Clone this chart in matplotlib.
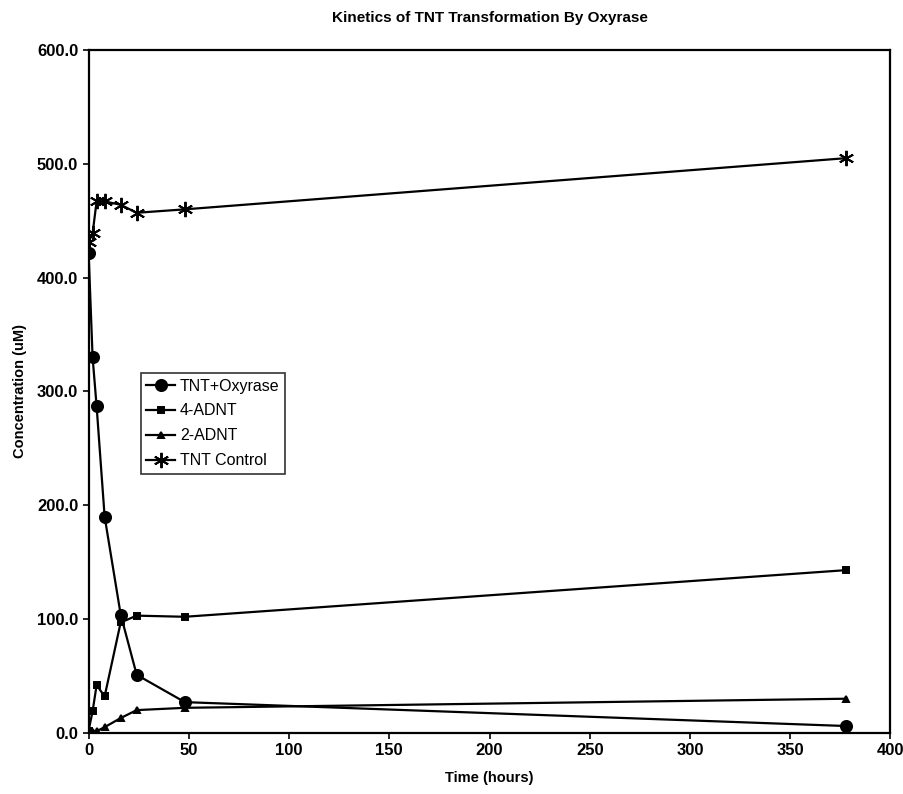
import matplotlib
matplotlib.use("Agg")
import matplotlib.pyplot as plt
from matplotlib.ticker import FormatStrFormatter, MultipleLocator

plt.rcParams["font.family"] = ["Liberation Sans", "DejaVu Sans"]

# --------------------------
# Données
# --------------------------
temps = [0, 2, 4, 8, 16, 24, 48, 378]

tnt_oxyrase = [422, 330, 287, 190, 104, 51, 27, 6]
adnt_4 = [2, 19, 42, 32, 97, 103, 102, 143]
adnt_2 = [2, 1, 1.5, 5, 13, 20, 22, 30]
tnt_control = [431, 439, 467, 467, 464, 457, 460, 505]

noms = ["TNT+Oxyrase", "4-ADNT", "2-ADNT", "TNT Control"]
series = [tnt_oxyrase, adnt_4, adnt_2, tnt_control]
marqueurs = ["o", "s", "^", (6, 2, 0)]
tailles = [8, 5, 5, 11]

# --------------------------
# Figure
# --------------------------
fig = plt.figure(figsize=(9.04, 7.94), dpi=100)
ax = fig.add_axes([0.098, 0.077, 0.887, 0.860])

for nom, valeurs, m, s in zip(noms, series, marqueurs, tailles):
    ax.plot(temps, valeurs, color="black", lw=1.6, marker=m, ms=s,
            mfc="black", mec="black", mew=1.4, label=nom)

ax.set_xlim(0, 400)
ax.set_ylim(0, 600)
ax.xaxis.set_major_locator(MultipleLocator(50))
ax.yaxis.set_major_locator(MultipleLocator(100))
ax.yaxis.set_major_formatter(FormatStrFormatter("%.1f"))

for sp in ax.spines.values():
    sp.set_linewidth(1.6)
ax.tick_params(direction="out", length=4, width=1.2, labelsize=12)
for lab in ax.get_xticklabels() + ax.get_yticklabels():
    lab.set_fontweight("bold")

ax.set_title("Kinetics of TNT Transformation By Oxyrase",
             fontsize=11, fontweight="bold", pad=20)
ax.set_xlabel("Time (hours)", fontsize=10.5, fontweight="bold", labelpad=9)
ax.set_ylabel("Concentration (uM)", fontsize=10.5, fontweight="bold", labelpad=7)

leg = ax.legend(loc="upper left", bbox_to_anchor=(0.065, 0.527),
                fontsize=11.5, frameon=True, fancybox=False, edgecolor="black",
                handlelength=1.8, handletextpad=0.3, labelspacing=0.62,
                borderpad=0.35, borderaxespad=0)
leg.get_frame().set_linewidth(1.2)

fig.savefig("out.png", dpi=100)
